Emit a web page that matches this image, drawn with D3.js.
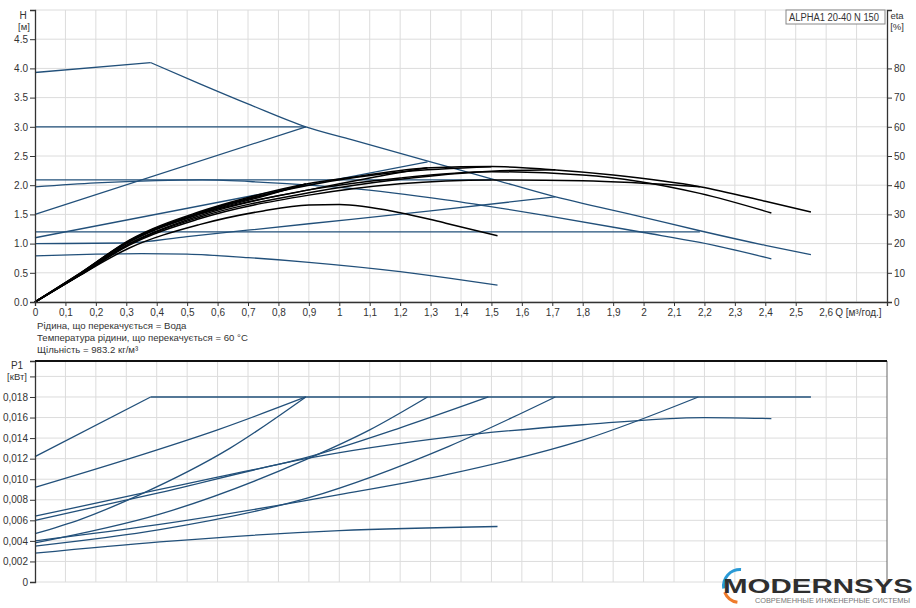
<!DOCTYPE html>
<html lang="uk">
<head>
<meta charset="UTF-8">
<title>ALPHA1 20-40 N 150</title>
<script src="https://d3js.org/d3.v7.min.js"></script>
<style>
  body { margin: 0; background: #fff; }
  svg { display: block; font-family: 'Liberation Sans', Arial, sans-serif; }
  .tick-label { font-size: 10px; fill: #333; }
  .grid { stroke: #dcdcdc; stroke-width: 1; }
  .blue { fill: none; stroke: #22507a; stroke-width: 1.3; }
  .black { fill: none; stroke: #000; stroke-width: 1.5; }
</style>
</head>
<body>
<svg id="chart" width="916" height="608"></svg>
<script>
// tick labels
const qTicks = [0, 0.1, 0.2, 0.3, 0.4, 0.5, 0.6, 0.7, 0.8, 0.9, 1.0, 1.1, 1.2, 1.3, 1.4, 1.5, 1.6, 1.7, 1.8, 1.9, 2.0, 2.1, 2.2, 2.3, 2.4, 2.5];
const qGrid = [0.1, 0.2, 0.3, 0.4, 0.5, 0.6, 0.7, 0.8, 0.9, 1.0, 1.1, 1.2, 1.3, 1.4, 1.5, 1.6, 1.7, 1.8, 1.9, 2.0, 2.1, 2.2, 2.3, 2.4, 2.5, 2.6, 2.7];
const hTicks = [0, 0.5, 1.0, 1.5, 2.0, 2.5, 3.0, 3.5, 4.0, 4.5];
const etaTicks = [0, 10, 20, 30, 40, 50, 60, 70, 80];
const pTicks = [0, 0.002, 0.004, 0.006, 0.008, 0.010, 0.012, 0.014, 0.016, 0.018];

// head curves H [m] vs Q [m3/h]
const hMaxRise = [[0, 3.93], [0.38, 4.1]];
const hMax = [[0.38, 4.1], [0.54, 3.74], [0.71, 3.37], [0.89, 3.0], [1.04, 2.78], [1.3, 2.4], [1.5, 2.11], [1.69, 1.83], [2.0, 1.45], [2.185, 1.22], [2.4, 0.97], [2.55, 0.81]];
const hCp2 = [[0, 3.0], [0.89, 3.0]];
const hPp2 = [[0, 1.5], [0.89, 3.0]];
const hCp21 = [[0, 2.09], [1.5, 2.09]];
const hPp11 = [[0, 1.1], [1.29, 2.4]];
const hCp12 = [[0, 1.2], [2.185, 1.2]];
const hPp10 = [[0, 1.0], [0.3, 1.01], [0.5, 1.12], [0.9, 1.34], [1.3, 1.56], [1.71, 1.8]];
const hSpeed2 = [[0, 1.97], [0.2, 2.04], [0.4, 2.08], [0.55, 2.09], [0.75, 2.05], [1.03, 1.95], [1.35, 1.75], [1.69, 1.47], [2.0, 1.19], [2.185, 1.02], [2.42, 0.74]];
const hSpeed1 = [[0, 0.79], [0.2, 0.82], [0.35, 0.83], [0.5, 0.82], [0.7, 0.76], [0.9, 0.68], [1.2, 0.52], [1.36, 0.41], [1.52, 0.29]];

// efficiency curves eta [%]
const etaMax = [[0, 0], [0.148, 9.8], [0.31, 21.2], [0.54, 30.9], [0.7, 35.8], [0.9, 40.6], [1.035, 42.6], [1.3, 46.0], [1.5, 46.4], [1.69, 45.4], [1.9, 43.5], [2.185, 39.5], [2.4, 34.5], [2.55, 30.8]];
const etaCp2 = [[0, 0], [0.15, 10], [0.31, 21], [0.54, 30.5], [0.75, 36.5], [0.89, 40.4]];
const etaPp2 = [[0, 0], [0.15, 9.9], [0.31, 20.8], [0.54, 30.2], [0.75, 36.2], [0.89, 40.4]];
const etaPp11 = [[0, 0], [0.15, 9.6], [0.31, 20.5], [0.54, 30], [0.9, 38.4], [1.1, 42.5], [1.29, 46]];
const etaCp21 = [[0, 0], [0.15, 9.7], [0.31, 20.8], [0.54, 30.5], [0.9, 40], [1.2, 44.5], [1.5, 46.3]];
const etaPp10 = [[0, 0], [0.15, 9.4], [0.31, 19.8], [0.54, 29], [0.9, 37.4], [1.2, 42], [1.5, 44.8], [1.71, 45.3]];
const etaCp12 = [[0, 0], [0.15, 9.3], [0.31, 19.5], [0.54, 28.5], [0.9, 36.6], [1.2, 40.5], [1.5, 41.8], [1.8, 41.5], [2.185, 39.5]];
const etaSpeed2 = [[0, 0], [0.15, 9.5], [0.31, 20], [0.54, 29.5], [0.9, 38.4], [1.2, 42.5], [1.5, 44.6], [1.8, 43.5], [2.185, 37.2], [2.42, 30.5]];
const etaSpeed1 = [[0, 0], [0.15, 9.3], [0.31, 18.5], [0.54, 26.5], [0.75, 31.2], [0.9, 33.2], [1.0, 33.4], [1.2, 30.6], [1.35, 27], [1.52, 22.7]];

// power curves P1 [kW]
const pMaxRise = [[0, 0.0122], [0.38, 0.018]];
const pMax = [[0.38, 0.018], [2.55, 0.018]];
const pCp2 = [[0, 0.0092], [0.3, 0.0119], [0.6, 0.0148], [0.89, 0.018]];
const pPp2 = [[0, 0.0047], [0.15, 0.0061], [0.345, 0.0085], [0.64, 0.013], [0.89, 0.018]];
const pCp21 = [[0, 0.0064], [0.41, 0.009], [0.6, 0.0102], [0.89, 0.0121], [1.2, 0.015], [1.49, 0.018]];
const pSpeed2 = [[0, 0.006], [0.41, 0.0087], [0.89, 0.012], [1.36, 0.0141], [1.8, 0.0153], [2.2, 0.016], [2.42, 0.0159]];
const pPp11 = [[0, 0.0038], [0.41, 0.0066], [0.89, 0.0119], [1.1, 0.0148], [1.29, 0.018]];
const pCp12 = [[0, 0.004], [0.41, 0.0056], [1.0, 0.0085], [1.36, 0.0105], [1.8, 0.0138], [2.18, 0.018]];
const pPp10 = [[0, 0.0035], [0.41, 0.0051], [0.9, 0.0082], [1.36, 0.0132], [1.71, 0.018]];
const pSpeed1 = [[0, 0.0028], [0.41, 0.0039], [1.0, 0.005], [1.52, 0.0054]];

const svg = d3.select('#chart');

const x = d3.scaleLinear().domain([0, 2.8]).range([35, 887]);
const yH = d3.scaleLinear().domain([0, 5]).range([302, 10]);
const yEta = d3.scaleLinear().domain([0, 100]).range([302, 10]);
const yP = d3.scaleLinear().domain([0, 0.0215]).range([582, 361]);

const commaFmt = d => String(d).replace('.', ',');

// ---------- top chart ----------
const gTop = svg.append('g');

gTop.selectAll('.vgrid').data(qGrid).enter().append('line')
  .attr('class', 'grid')
  .attr('x1', d => x(d)).attr('x2', d => x(d))
  .attr('y1', yH(5)).attr('y2', yH(0));
gTop.selectAll('.hgrid').data(hTicks.concat([5])).enter().append('line')
  .attr('class', 'grid')
  .attr('x1', x(0)).attr('x2', x(2.8))
  .attr('y1', d => yH(d)).attr('y2', d => yH(d));

const lineH = d3.line().x(d => x(d[0])).y(d => yH(d[1])).curve(d3.curveMonotoneX);
const lineEta = d3.line().x(d => x(d[0])).y(d => yEta(d[1])).curve(d3.curveMonotoneX);
const lineP = d3.line().x(d => x(d[0])).y(d => yP(d[1])).curve(d3.curveMonotoneX);

[hSpeed1, hSpeed2, hPp10, hCp12, hPp11, hCp21, hPp2, hCp2, hMaxRise, hMax].forEach(s => {
  gTop.append('path').attr('class', 'blue').attr('d', lineH(s));
});
[etaSpeed1, etaCp12, etaPp10, etaSpeed2, etaPp11, etaCp21, etaPp2, etaCp2].forEach(s => {
  gTop.append('path').attr('class', 'black').attr('d', lineEta(s));
});
gTop.append('path').attr('class', 'black').attr('stroke-width', 2).attr('d', lineEta(etaMax));

// axes
const axisLeftH = d3.axisLeft(yH).tickValues(hTicks).tickSize(5).tickFormat(d3.format('.1f'));
const gl = gTop.append('g').attr('transform', `translate(${x(0)},0)`).call(axisLeftH);
const axisRightEta = d3.axisRight(yEta).tickValues(etaTicks).tickSize(5).tickFormat(d3.format('d'));
const gr = gTop.append('g').attr('transform', `translate(${x(2.8)},0)`).call(axisRightEta);
const axisBottomQ = d3.axisBottom(x).tickValues(qTicks).tickSize(4).tickFormat(commaFmt);
const gb = gTop.append('g').attr('transform', `translate(0,${yH(0)})`).call(axisBottomQ);

[gl, gr, gb].forEach(g => {
  g.attr('font-family', null).attr('font-size', null);
  g.select('.domain').attr('stroke', '#333').attr('stroke-width', 1.3);
  g.selectAll('.tick line').attr('stroke', '#333');
  g.selectAll('.tick text').attr('class', 'tick-label');
});
gl.selectAll('.tick text').attr('x', -7);
gr.selectAll('.tick text').attr('x', 7);

gTop.append('text').attr('class', 'tick-label').attr('x', x(2.6)).attr('y', 316)
  .attr('text-anchor', 'middle').text('2,6');
gTop.append('text').attr('class', 'tick-label').attr('x', x(2.6) + 9).attr('y', 316)
  .text('Q [м³/год.]');

gTop.append('text').attr('class', 'tick-label').attr('x', 23).attr('y', 19).attr('text-anchor', 'middle').text('H');
gTop.append('text').attr('class', 'tick-label').attr('x', 24).attr('y', 30).attr('text-anchor', 'middle').style('font-size', '9.5px').text('[м]');
gTop.append('text').attr('class', 'tick-label').attr('x', 897).attr('y', 19).attr('text-anchor', 'middle').style('font-size', '9.5px').text('eta');
gTop.append('text').attr('class', 'tick-label').attr('x', 897).attr('y', 30).attr('text-anchor', 'middle').style('font-size', '9.5px').text('[%]');

// model box
gTop.append('rect').attr('x', 786).attr('y', 10).attr('width', 99).attr('height', 14)
  .attr('fill', '#fff').attr('stroke', '#888');
gTop.append('text').attr('class', 'tick-label').attr('x', 789).attr('y', 21)
  .attr('textLength', 90).attr('lengthAdjust', 'spacingAndGlyphs')
  .text('ALPHA1 20-40 N 150');

// fluid info
const info = ['Рідина, що перекачується = Вода', 'Температура рідини, що перекачується = 60 °C', 'Щільність = 983.2 кг/м³'];
svg.selectAll('.info').data(info).enter().append('text')
  .attr('class', 'tick-label').style('font-size', '9.6px')
  .attr('x', 37).attr('y', (d, i) => 329 + i * 12).text(d => d);

// ---------- bottom chart ----------
const gBot = svg.append('g');
gBot.selectAll('.vgrid').data(qGrid).enter().append('line')
  .attr('class', 'grid')
  .attr('x1', d => x(d)).attr('x2', d => x(d))
  .attr('y1', yP(0.0215)).attr('y2', yP(0));
gBot.selectAll('.hgrid').data(pTicks.concat([0.02])).enter().append('line')
  .attr('class', 'grid')
  .attr('x1', x(0)).attr('x2', x(2.8))
  .attr('y1', d => yP(d)).attr('y2', d => yP(d));
gBot.append('line').attr('x1', x(2.8)).attr('x2', x(2.8)).attr('y1', yP(0.0215)).attr('y2', yP(0))
  .attr('stroke', '#666');

[pSpeed1, pCp12, pPp10, pPp11, pSpeed2, pCp21, pPp2, pCp2, pMaxRise, pMax].forEach(s => {
  gBot.append('path').attr('class', 'blue').attr('d', lineP(s));
});

const axisLeftP = d3.axisLeft(yP).tickValues(pTicks.concat([0.02])).tickSize(5)
  .tickFormat(d => d === 0 ? '0' : (d === 0.02 ? '' : d3.format('.3f')(d).replace('.', ',')));
const gp = gBot.append('g').attr('transform', `translate(${x(0)},0)`).call(axisLeftP);
gp.attr('font-family', null).attr('font-size', null);
gp.select('.domain').attr('stroke', '#333').attr('stroke-width', 1.3);
gp.selectAll('.tick line').attr('stroke', '#333');
gp.selectAll('.tick text').attr('class', 'tick-label').attr('x', -7);
gBot.append('line').attr('x1', x(0)).attr('x2', x(2.8)).attr('y1', yP(0.0215)).attr('y2', yP(0.0215))
  .attr('stroke', '#111').attr('stroke-width', 2);

gBot.append('text').attr('class', 'tick-label').attr('x', 17).attr('y', 369).attr('text-anchor', 'middle').text('P1');
gBot.append('text').attr('class', 'tick-label').attr('x', 17).attr('y', 380).attr('text-anchor', 'middle').style('font-size', '9.5px').text('[кВт]');

// ---------- logo ----------
const logo = svg.append('g');
const arc = d3.arc().innerRadius(15).outerRadius(18);
logo.append('path').attr('transform', 'translate(740,586)')
  .attr('d', arc({ startAngle: -Math.PI * 0.55, endAngle: Math.PI * 0.02 })).attr('fill', '#2a9ad6');
logo.append('path').attr('transform', 'translate(740,586)')
  .attr('d', arc({ startAngle: -Math.PI * 0.95, endAngle: -Math.PI * 0.62 })).attr('fill', '#ef7b2b');
logo.append('text').attr('x', 723).attr('y', 593).attr('font-size', 21).attr('font-weight', 'bold')
  .attr('fill', '#2f2f2f').attr('textLength', 190).attr('lengthAdjust', 'spacingAndGlyphs').text('MODERNSYS');
logo.append('text').attr('x', 755).attr('y', 603).attr('font-size', 7.5)
  .attr('fill', '#777').attr('textLength', 155).attr('lengthAdjust', 'spacingAndGlyphs').text('СОВРЕМЕННЫЕ ИНЖЕНЕРНЫЕ СИСТЕМЫ');
</script>
</body>
</html>
